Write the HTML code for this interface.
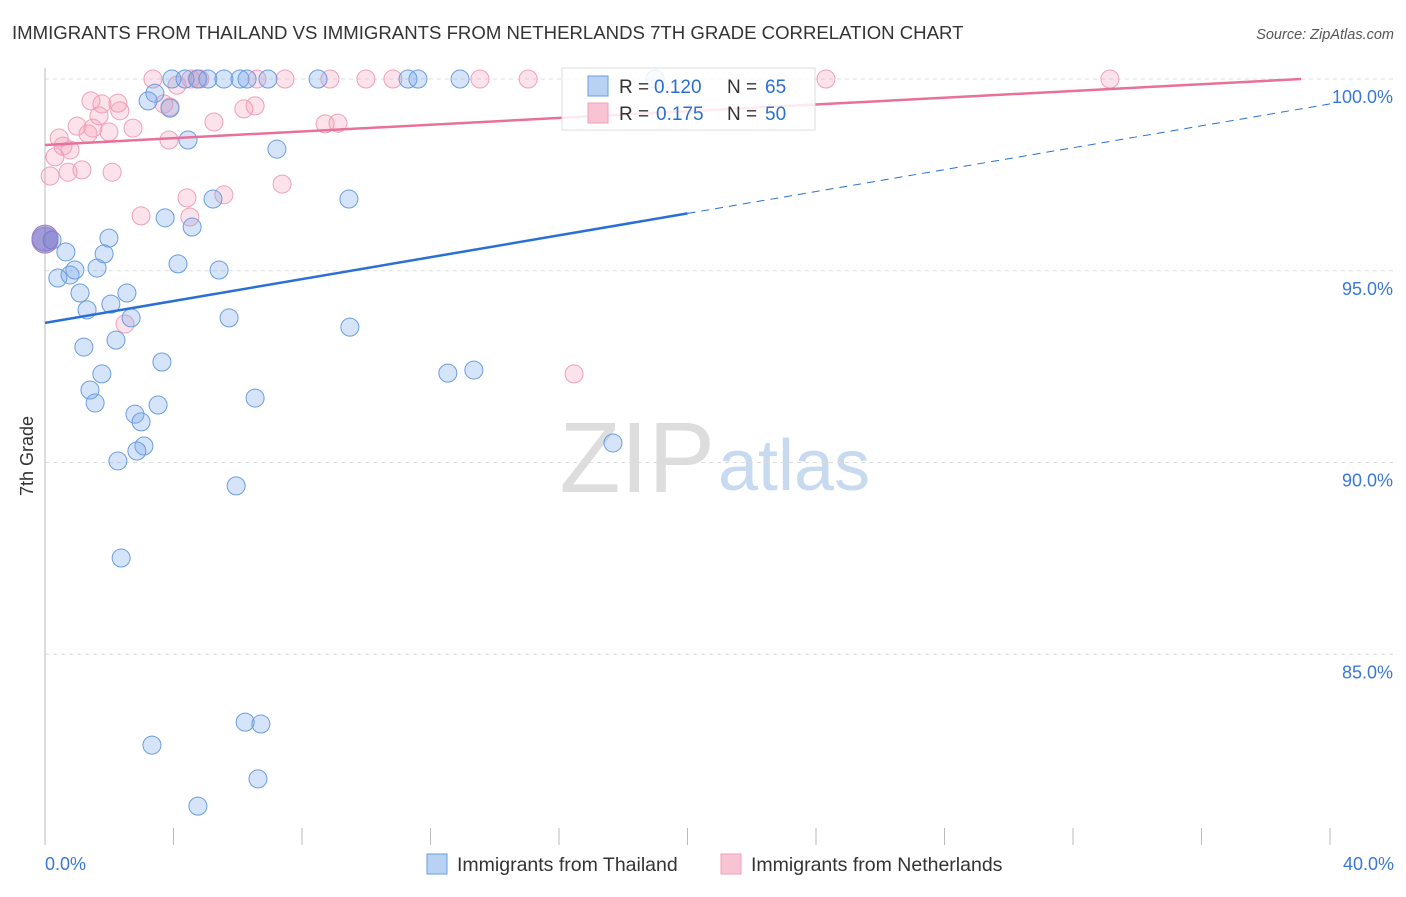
<!DOCTYPE html>
<html><head><meta charset="utf-8"><style>
body{margin:0;background:#fff;font-family:"Liberation Sans",sans-serif}
svg text{font-family:"Liberation Sans",sans-serif}
</style></head><body>
<svg id="c" width="1406" height="892">
<text x="12" y="39" font-size="18.6" fill="#333">IMMIGRANTS FROM THAILAND VS IMMIGRANTS FROM NETHERLANDS 7TH GRADE CORRELATION CHART</text>
<text x="1394" y="39" font-size="14.5" fill="#555" text-anchor="end" font-style="italic">Source: ZipAtlas.com</text>
<text x="33" y="456" font-size="18" fill="#333" transform="rotate(-90 33 456)" text-anchor="middle">7th Grade</text>
<text x="715" y="492" font-size="100" fill="#ddd" text-anchor="end" font-family="Liberation Serif">ZIP</text>
<text x="718" y="490" font-size="72" fill="#c8daf0">atlas</text>
<g id="grid"></g><g id="marks"></g><g id="lines"></g>
<g>
<rect x="562" y="68" width="253" height="62" fill="#fff" fill-opacity="0.85" stroke="#ddd"/>
<rect x="588" y="76" width="20" height="20" fill="#b8d2f4" stroke="#6a9de0"/>
<text x="619" y="93" font-size="19" fill="#333">R =</text><text x="654" y="93" font-size="19" fill="#2a6fd6">0.120</text>
<text x="727" y="93" font-size="19" fill="#333">N =</text><text x="765" y="93" font-size="19" fill="#2a6fd6">65</text>
<rect x="588" y="103" width="20" height="20" fill="#f8c4d4" stroke="#f0a0b8"/>
<text x="619" y="120" font-size="19" fill="#333">R =</text><text x="656" y="120" font-size="19" fill="#2a6fd6">0.175</text>
<text x="727" y="120" font-size="19" fill="#333">N =</text><text x="765" y="120" font-size="19" fill="#2a6fd6">50</text>
</g>
<g>
<rect x="427" y="854" width="20" height="20" fill="#b8d2f4" stroke="#6a9de0"/>
<text x="457" y="871" font-size="19.5" fill="#333">Immigrants from Thailand</text>
<rect x="721" y="854" width="20" height="20" fill="#f8c4d4" stroke="#f0a0b8"/>
<text x="751" y="871" font-size="19.5" fill="#333">Immigrants from Netherlands</text>
</g>
</svg>
<script>
const yTicks=[100,95,90,85];
const yTickLabels=["100.0%","95.0%","90.0%","85.0%"];
const xTickLabels=["0.0%","40.0%"];
const thaiX=[3.95,4.36,4.76,5.07,5.57,6.07,6.29,6.94,8.50,11.30,11.61,12.92,18.99,3.42,3.21,3.89,4.45,7.22,9.46,5.23,3.74,4.58,1.99,1.84,0.22,0.65,0.40,0.78,0.93,1.62,4.14,5.42,1.09,2.55,1.31,2.05,2.68,5.73,9.49,1.21,2.21,3.64,1.77,12.54,13.35,1.40,1.56,2.80,3.52,2.99,6.54,3.08,2.86,2.27,17.68,5.95,2.37,6.23,6.72,3.33,6.63,4.76];
const thaiY=[100,100,100,100,100,100,100,100,100,100,100,100,100,99.63,99.43,99.24,98.41,98.17,96.87,96.87,96.38,96.14,95.85,95.44,95.80,95.49,94.81,94.89,95.02,95.07,95.18,95.02,94.42,94.42,93.98,94.13,93.77,93.77,93.53,93.01,93.19,92.62,92.31,92.33,92.41,91.89,91.55,91.26,91.50,91.06,91.68,90.43,90.30,90.04,90.51,89.39,87.51,83.23,83.18,82.63,81.75,81.04];
const nethX=[3.36,4.73,4.82,6.60,7.47,8.87,9.99,10.83,13.54,15.04,24.31,33.15,4.11,4.54,1.43,1.77,2.27,3.70,2.33,1.68,6.19,6.54,5.26,8.72,9.12,1.00,1.49,1.99,2.74,0.44,1.34,3.86,0.56,0.78,0.31,3.89,0.72,1.15,2.09,0.16,7.38,5.57,4.42,2.99,4.51,2.49,16.47];
const nethY=[100,100,100,100,100,100,100,100,100,100,100,100,99.84,100,99.43,99.35,99.37,99.35,99.17,99.04,99.22,99.30,98.88,98.83,98.85,98.77,98.72,98.62,98.72,98.46,98.57,98.41,98.25,98.15,97.97,99.27,97.57,97.63,97.57,97.47,97.26,96.98,96.90,96.43,96.40,93.61,92.31];
const bigX=[0,0];const bigY=[95.85,95.80];
const thaiTrend=[93.64,99.35];const nethTrend=[98.28,100.0];
const X=v=>45+v*32.125, Y=v=>79+(100-v)*38.35;
const NS="http://www.w3.org/2000/svg";
function mk(t,a,p){const e=document.createElementNS(NS,t);for(const k in a)e.setAttribute(k,a[k]);p.appendChild(e);return e;}
const grid=document.getElementById('grid'),marks=document.getElementById('marks'),lines=document.getElementById('lines');
yTicks.forEach((v,i)=>{
 const l=mk('line',{x1:45,x2:1394,y1:Y(v),y2:Y(v),stroke:'#ddd','stroke-dasharray':'4,4'},grid);
 
 
 const t=mk('text',{x:1393,y:Y(v)+24,'font-size':18,fill:'#3a78d8','text-anchor':'end'},grid);t.textContent=yTickLabels[i];
 
 
});
mk('line',{x1:45,x2:45,y1:68,y2:845,stroke:'#bbb'},grid);
for(let i=0;i<=10;i++){const l=mk('line',{x1:X(i*4),x2:X(i*4),y1:828,y2:845,stroke:'#bbb'},grid);
 
 }
let t0=mk('text',{x:45,y:870,'font-size':18,fill:'#3a78d8'},grid);t0.textContent=xTickLabels[0];


let t1=mk('text',{x:1394,y:870,'font-size':18,fill:'#3a78d8','text-anchor':'end'},grid);t1.textContent=xTickLabels[1];


nethX.forEach((x,i)=>{const c=mk('circle',{cx:X(x),cy:Y(nethY[i]),r:9,fill:'rgba(244,160,186,0.3)',stroke:'#f0a0b8'},marks);
 
 });
thaiX.forEach((x,i)=>{const c=mk('circle',{cx:X(x),cy:Y(thaiY[i]),r:9,fill:'rgba(120,165,235,0.3)',stroke:'#6a9de0'},marks);
 
 });
bigX.forEach((x,i)=>{const c=mk('circle',{cx:X(x),cy:Y(bigY[i]),r:13,fill:'rgba(120,110,200,0.45)',stroke:'#9a80c8'},marks);
 
 });
const ty=x=>thaiTrend[0]+(thaiTrend[1]-thaiTrend[0])*x/40;
let a=mk('line',{x1:X(0),y1:Y(ty(0)),x2:X(20),y2:Y(ty(20)),stroke:'#2a6fd6','stroke-width':2.5},lines);


let b=mk('line',{x1:X(20),y1:Y(ty(20)),x2:X(40),y2:Y(ty(40)),stroke:'#2a6fd6','stroke-width':1,'stroke-dasharray':'8,6'},lines);


let p=mk('line',{x1:X(0),y1:Y(nethTrend[0]),x2:X(39.1),y2:Y(nethTrend[1]),stroke:'#e8709a','stroke-width':2.5},lines);


</script>
</body></html>
